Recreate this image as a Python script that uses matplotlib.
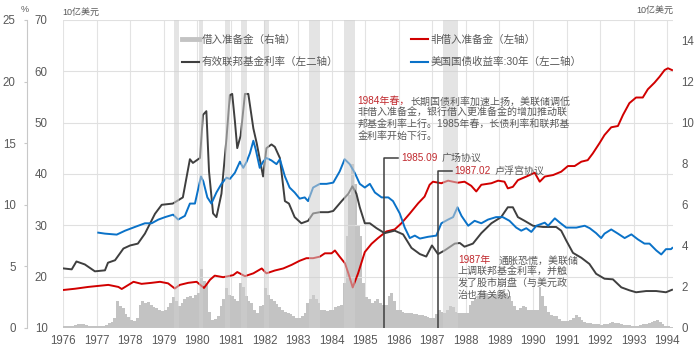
import numpy as np
import matplotlib.pyplot as plt
from matplotlib import font_manager
from matplotlib.lines import Line2D

names = {f.name for f in font_manager.fontManager.ttflist}
num_font = 'Liberation Sans Narrow' if 'Liberation Sans Narrow' in names else 'Liberation Sans'
plt.rcParams['font.family'] = [num_font, 'Noto Sans CJK SC', 'DejaVu Sans']

# ---- data ----
# effective fed funds rate, % (left 2nd axis)
ffr_t = [1976.0, 1976.26, 1976.4, 1976.65, 1976.95, 1977.25, 1977.34, 1977.55, 1977.8, 1978.0,
         1978.23, 1978.44, 1978.74, 1978.94, 1979.27, 1979.57, 1979.78, 1979.87, 1980.08, 1980.17,
         1980.27, 1980.35, 1980.47, 1980.57, 1980.72, 1980.87, 1980.97, 1981.04, 1981.12, 1981.19,
         1981.29, 1981.42, 1981.52, 1981.67, 1981.77, 1981.96, 1982.06, 1982.21, 1982.31, 1982.46,
         1982.61, 1982.73, 1982.9, 1983.1, 1983.3, 1983.45, 1983.65, 1983.9, 1984.05, 1984.3,
         1984.5, 1984.62, 1984.74, 1984.84, 1984.99, 1985.14, 1985.34, 1985.58, 1985.88, 1986.13,
         1986.38, 1986.63, 1986.82, 1986.99, 1987.17, 1987.37, 1987.67, 1987.82, 1987.96, 1988.21,
         1988.46, 1988.76, 1989.05, 1989.25, 1989.4, 1989.55, 1989.75, 1990.0, 1990.3, 1990.69,
         1990.84, 1990.99, 1991.19, 1991.44, 1991.68, 1991.88, 1992.13, 1992.38, 1992.63, 1992.87,
         1993.07, 1993.37, 1993.67, 1993.96, 1994.14]
ffr_v = [4.84, 4.76, 5.4, 5.16, 4.6, 4.68, 5.3, 5.5, 6.45, 6.7,
         6.85, 7.66, 9.27, 10.0, 10.1, 10.6, 13.7, 13.4, 13.8, 17.3,
         17.6, 12.7, 9.3, 9.0, 10.9, 15.4, 18.9, 19.0, 16.8, 14.6,
         15.6, 19.0, 19.0, 16.2, 15.0, 12.3, 14.6, 14.9, 14.7, 13.8,
         10.3, 10.1, 9.0, 8.5, 8.7, 9.3, 9.4, 9.4, 9.5, 10.3,
         10.9, 11.5, 10.9, 9.8, 8.5, 8.5, 8.1, 7.7, 7.9, 7.6,
         6.5, 6.0, 5.8, 6.7, 6.0, 6.3, 6.85, 6.9, 6.6, 6.85,
         7.7, 8.5, 9.0, 9.8, 9.8, 9.0, 8.7, 8.3, 8.2, 8.2,
         7.9, 7.1, 6.1, 5.7, 5.2, 4.4, 4.0, 3.95, 3.3, 3.06,
         2.9, 3.0, 3.0, 2.9, 3.1]

# 30y treasury yield, % (left 2nd axis)
ust_t = [1977.05, 1977.25, 1977.6, 1977.85, 1978.14, 1978.44, 1978.64, 1978.84, 1979.04, 1979.28,
         1979.43, 1979.63, 1979.78, 1979.93, 1980.11, 1980.18, 1980.3, 1980.42, 1980.57, 1980.72,
         1980.87, 1980.97, 1981.12, 1981.27, 1981.37, 1981.47, 1981.57, 1981.67, 1981.74, 1981.86,
         1981.96, 1982.06, 1982.21, 1982.36, 1982.46, 1982.61, 1982.75, 1982.9, 1983.05, 1983.2,
         1983.3, 1983.45, 1983.65, 1983.85, 1984.05, 1984.24, 1984.39, 1984.54, 1984.69, 1984.84,
         1984.99, 1985.14, 1985.29, 1985.49, 1985.69, 1985.83, 1986.03, 1986.18, 1986.33, 1986.48,
         1986.63, 1986.87, 1987.12, 1987.27, 1987.47, 1987.62, 1987.75, 1987.87, 1988.07, 1988.26,
         1988.46, 1988.66, 1988.9, 1989.1, 1989.3, 1989.5, 1989.65, 1989.8, 1989.95, 1990.1,
         1990.35, 1990.45, 1990.65, 1990.8, 1990.99, 1991.29, 1991.54, 1991.69, 1991.88, 1992.03,
         1992.13, 1992.33, 1992.53, 1992.73, 1992.93, 1993.12, 1993.32, 1993.47, 1993.67, 1993.82,
         1993.96, 1994.11, 1994.15]
ust_v = [7.74, 7.66, 7.58, 7.9, 8.2, 8.5, 8.5, 8.8, 9.0, 9.2,
         8.8, 9.1, 10.1, 10.1, 12.3, 11.9, 10.6, 10.1, 11.0, 11.7,
         12.2, 12.1, 12.6, 13.5, 13.0, 13.5, 14.2, 15.2, 14.5, 13.0,
         13.5, 13.8, 13.6, 13.3, 13.7, 12.3, 11.4, 11.0, 10.5, 10.6,
         10.3, 11.4, 11.7, 11.7, 11.8, 12.7, 13.7, 13.3, 12.6, 11.7,
         11.4, 11.7, 11.0, 10.6, 10.6, 10.3, 9.3, 8.15, 7.3, 7.5,
         7.26, 7.4, 7.5, 8.5, 8.8, 9.0, 9.8, 9.1, 8.3, 8.7,
         8.5, 8.8, 9.0, 9.0, 8.7, 8.15, 7.9, 8.1, 7.8, 8.3,
         8.55, 8.3, 8.9, 8.55, 8.15, 8.15, 8.3, 8.1, 7.7, 7.3,
         7.66, 8.0, 7.66, 7.3, 7.6, 7.2, 6.85, 6.85, 6.3, 5.97,
         6.4, 6.4, 6.5]

# nonborrowed reserves, 10亿美元 (left axis)
nbr_t = [1976.0, 1976.36, 1976.75, 1977.05, 1977.35, 1977.65, 1977.75, 1977.85, 1978.1, 1978.34,
         1978.64, 1978.89, 1979.13, 1979.33, 1979.48, 1979.73, 1979.98, 1980.2, 1980.38, 1980.52,
         1980.77, 1981.07, 1981.19, 1981.42, 1981.67, 1981.92, 1982.06, 1982.31, 1982.56, 1982.81,
         1983.05, 1983.25, 1983.45, 1983.65, 1983.8, 1984.0, 1984.1, 1984.24, 1984.4, 1984.5,
         1984.63, 1984.79, 1984.99, 1985.19, 1985.38, 1985.63, 1985.88, 1986.08, 1986.33, 1986.58,
         1986.77, 1986.92, 1987.02, 1987.27, 1987.47, 1987.76, 1987.96, 1988.16, 1988.31, 1988.46,
         1988.76, 1988.96, 1989.15, 1989.25, 1989.4, 1989.55, 1989.8, 1990.05, 1990.2, 1990.35,
         1990.6, 1990.84, 1991.04, 1991.24, 1991.44, 1991.63, 1991.78, 1991.98, 1992.13, 1992.33,
         1992.53, 1992.68, 1992.87, 1993.07, 1993.27, 1993.42, 1993.62, 1993.77, 1993.92, 1994.02,
         1994.14]
nbr_v = [17.4, 17.65, 18.0, 18.2, 18.4, 18.0, 17.6, 18.0, 19.0, 18.6,
         18.8, 19.0, 18.7, 17.7, 18.4, 18.8, 19.0, 17.8, 19.4, 20.2,
         19.9, 20.3, 20.9, 20.1, 20.65, 21.6, 20.65, 21.2, 21.6, 22.3,
         23.1, 23.6, 23.6, 23.9, 24.55, 24.55, 25.1, 23.9, 22.6, 20.65,
         17.9, 20.65, 24.8, 26.4, 27.5, 28.8, 29.2, 30.4, 32.3, 34.3,
         35.6, 37.9, 38.5, 38.2, 38.7, 38.3, 38.5, 37.7, 36.6, 37.9,
         38.2, 38.7, 38.5, 37.2, 37.5, 38.8, 39.5, 40.25, 38.5, 39.5,
         39.8, 40.45, 41.55, 41.55, 42.4, 42.7, 44.0, 46.0, 47.6, 49.1,
         49.35, 51.5, 53.8, 54.9, 54.9, 56.5, 57.8, 58.95, 60.25, 60.6,
         60.25]

# borrowed reserves, monthly from 1976-01, 10亿美元 (right axis)
borrowed = [
    0.1, 0.1, 0.1, 0.12, 0.15, 0.2, 0.2, 0.18, 0.15, 0.1, 0.1, 0.1,      # 1976
    0.1, 0.1, 0.1, 0.15, 0.25, 0.3, 0.5, 1.3, 1.05, 0.95, 0.7, 0.55,     # 1977
    0.4, 0.35, 0.5, 1.1, 1.3, 1.2, 1.25, 1.1, 1.0, 0.95, 0.9, 0.85,      # 1978
    0.9, 1.0, 1.2, 1.5, 1.3, 1.05, 1.2, 1.4, 1.5, 1.55, 1.45, 1.6,       # 1979
    1.7, 2.85, 2.3, 2.2, 0.8, 0.4, 0.45, 0.6, 1.05, 1.4, 1.95, 1.6,      # 1980
    1.55, 1.4, 1.3, 2.2, 2.0, 1.55, 1.3, 1.2, 0.9, 0.73, 1.05, 1.1,      # 1981
    1.95, 1.6, 1.4, 1.3, 1.15, 1.0, 0.9, 0.8, 0.75, 0.7, 0.6, 0.5,       # 1982
    0.5, 0.6, 0.73, 1.2, 1.4, 1.6, 1.4, 1.2, 0.9, 0.9, 0.85, 0.9,        # 1983
    0.9, 1.0, 1.05, 1.1, 2.2, 4.5, 6.5, 8.0, 7.0, 5.0, 4.5, 2.2,         # 1984
    1.5, 1.4, 1.2, 1.3, 1.4, 1.2, 1.1, 1.1, 1.55, 1.7, 1.3, 0.9,         # 1985
    0.9, 0.8, 0.75, 0.73, 0.73, 0.7, 0.7, 0.65, 0.65, 0.6, 0.55, 0.5,    # 1986
    0.49, 0.7, 0.9, 0.8, 0.73, 0.9, 1.05, 1.0, 0.8, 0.75, 0.73, 0.73,    # 1987
    0.73, 1.14, 1.3, 1.4, 1.55, 1.7, 1.87, 1.7, 1.55, 1.6, 1.6, 1.8,     # 1988
    1.6, 1.8, 1.7, 1.55, 1.3, 1.05, 0.9, 0.95, 1.05, 1.0, 0.9, 0.9,      # 1989
    0.9, 0.9, 2.0, 1.55, 1.05, 0.8, 0.65, 0.6, 0.57, 0.45, 0.35, 0.32,   # 1990
    0.35, 0.4, 0.5, 0.65, 0.55, 0.4, 0.3, 0.25, 0.22, 0.2, 0.2, 0.18,    # 1991
    0.16, 0.18, 0.2, 0.25, 0.28, 0.25, 0.24, 0.2, 0.16, 0.14, 0.13, 0.12,  # 1992
    0.11, 0.12, 0.15, 0.18, 0.2, 0.24, 0.28, 0.35, 0.4, 0.3, 0.2, 0.12,  # 1993
    0.08, 0.07]                                                          # 1994
bar_t = 1976 + np.arange(len(borrowed)) / 12

# light grey shaded periods
bands = [(1979.3, 1979.46), (1980.05, 1980.18), (1980.83, 1980.97), (1981.3, 1981.47),
         (1981.99, 1982.15), (1983.32, 1983.67), (1984.36, 1984.71), (1987.31, 1987.77)]

years = list(range(1976, 1995))

RED = '#d10000'
BLUE = '#0a72c8'
BLACK = '#3f3f3f'
BARC = '#c3c3c3'
TXT = '#595959'
TXT_RED = '#c0282d'

fig = plt.figure(figsize=(7, 3.49), dpi=100)
ax0 = fig.add_axes([63 / 700, 21 / 349, 610 / 700, 308 / 349])
ax1 = ax0.twinx()
ax2 = ax0.twinx()

# bars (right axis)
ax0.bar(bar_t, borrowed, width=1 / 12, align='edge', color=BARC, lw=0)
ax0.set_ylim(0, 15)
ax0.set_yticks(range(0, 15, 2))
ax0.yaxis.tick_right()
ax0.set_xlim(1976, 1994.17)
ax0.set_xticks(years)
ax0.grid(axis='x', color='#e3e3e3', lw=0.8)
ax0.set_axisbelow(True)

# nonborrowed (left axis)
ax1.plot(nbr_t, nbr_v, color=RED, lw=1.4)
ax1.set_ylim(10, 70)
ax1.set_yticks(range(10, 71, 10))
ax1.yaxis.tick_left()
ax1.grid(axis='y', color='#e0e0e0', lw=0.8)

# rates (left 2nd axis)
ax2.plot(ffr_t, ffr_v, color=BLACK, lw=1.4, zorder=3)
ax2.plot(ust_t, ust_v, color=BLUE, lw=1.4, zorder=3)
ax2.set_ylim(0, 25)
ax2.set_yticks(range(0, 26, 5))
ax2.yaxis.tick_left()
ax2.spines['left'].set_position(('outward', 26))
ax2.spines['left'].set_color('#c8c8c8')

for a in (ax0, ax1, ax2):
    for s in ('top', 'right', 'bottom'):
        a.spines[s].set_visible(False)
for a in (ax0, ax1):
    a.spines['left'].set_visible(False)

ax0.tick_params(axis='x', length=0, pad=5, labelsize=8.3, labelcolor=TXT)
ax0.tick_params(axis='y', length=0, pad=6, labelsize=8.3, labelcolor=TXT)
ax1.tick_params(axis='y', length=0, pad=11, labelsize=8.3, labelcolor=TXT)
ax2.tick_params(axis='y', length=2.5, width=0.8, color='#c8c8c8', pad=5.5, labelsize=8.3, labelcolor=TXT)

# shaded periods on top (semi-transparent)
for a, b in bands:
    ax2.axvspan(a, b, color='#cfcfcf', alpha=0.55, lw=0, zorder=5)

# legend
handles = [Line2D([], [], color=BARC, lw=3.5),
           Line2D([], [], color=BLACK, lw=1.5),
           Line2D([], [], color=RED, lw=1.5),
           Line2D([], [], color=BLUE, lw=1.5)]
labels = ['借入准备金（右轴）', '有效联邦基金利率（左二轴）',
          '非借入准备金（左轴）', '美国国债收益率:30年（左二轴）']
leg = ax2.legend(handles, labels, ncol=2, frameon=False, loc='upper left',
                 bbox_to_anchor=(182 / 700, 1 - 35 / 349), bbox_transform=fig.transFigure,
                 borderpad=0, borderaxespad=0, fontsize=7.6, labelcolor=TXT,
                 handlelength=1.6, handletextpad=0.25, labelspacing=1.15, columnspacing=6.9)
leg.set_zorder(10)

# annotations
def two_tone(x, y, red, grey, gap=1.5):
    t = ax2.text(x, y, red, color=TXT_RED, fontsize=7.2, va='center', ha='left', zorder=10)
    ax2.annotate(grey, xy=(1, 0.5), xycoords=t, xytext=(gap, 0), textcoords='offset points',
                 color=TXT, fontsize=7.2, va='center', ha='left', zorder=10)

plaza_x, louvre_x = 1985.56, 1987.17
ax2.plot([plaza_x, plaza_x, 1985.97], [0, 13.82, 13.82], color=BLACK, lw=1.1, zorder=6)
ax2.plot([louvre_x, louvre_x, 1987.58], [0, 12.74, 12.74], color=BLACK, lw=1.1, zorder=6)
two_tone(1986.07, 13.82, '1985.09', '广场协议', gap=3)
two_tone(1987.64, 12.74, '1987.02', '卢浮宫协议', gap=3)

note1 = ['非借入准备金，银行借入更准备金的增加推动联',
         '邦基金利率上行。1985年春，长债利率和联邦基',
         '金利率开始下行。']
two_tone(1984.78, 18.39, '1984年春，', '长期国债利率加速上扬，美联储调低', gap=0)
for i, line in enumerate(note1):
    ax2.text(1984.78, 17.46 - 0.93 * i, line, color=TXT, fontsize=7.2, va='center', zorder=10)

note2 = ['上调联邦基金利率，并触', '发了股市崩盘（与美元政', '治也有关系）']
two_tone(1987.76, 5.48, '1987年', '通胀恐慌，美联储', gap=6)
for i, line in enumerate(note2):
    ax2.text(1987.76, 4.56 - 0.93 * i, line, color=TXT, fontsize=7.2, va='center', zorder=10)

# axis unit labels
fig.text(25 / 700, 1 - 10 / 349, '%', fontsize=6.5, color=TXT, ha='center', va='center')
fig.text(62 / 700, 1 - 12 / 349, '10亿美元', fontsize=6.5, color=TXT, ha='left', va='center')
fig.text(673 / 700, 1 - 10 / 349, '10亿美元', fontsize=6.5, color=TXT, ha='right', va='center')

fig.savefig('out.png', dpi=100)
